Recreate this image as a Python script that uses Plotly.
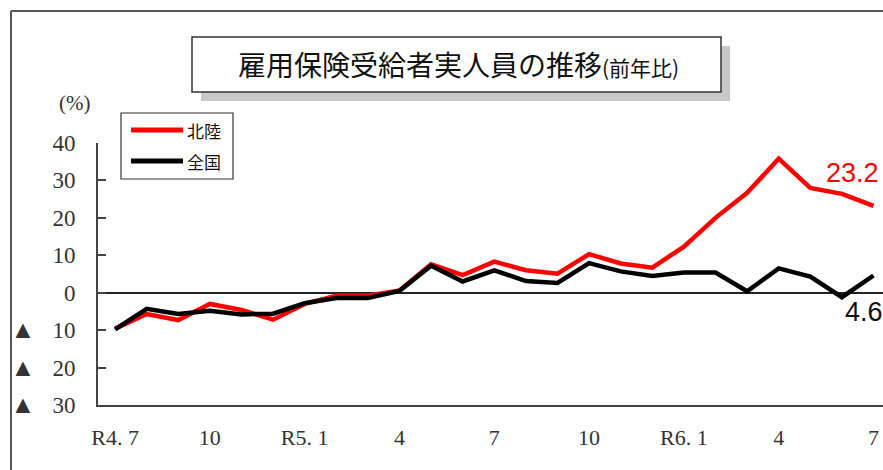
import plotly.graph_objects as go

# Months from R4.7 to R6.7
months = ["R4.7", "R4.8", "R4.9", "R4.10", "R4.11", "R4.12",
          "R5.1", "R5.2", "R5.3", "R5.4", "R5.5", "R5.6", "R5.7", "R5.8", "R5.9",
          "R5.10", "R5.11", "R5.12",
          "R6.1", "R6.2", "R6.3", "R6.4", "R6.5", "R6.6", "R6.7"]

# Year-on-year change (%) of insured unemployment benefit recipients
hokuriku = [-9.6, -5.7, -7.3, -3.0, -4.6, -7.2, -3.0, -0.8, -0.8, 0.6,
            7.6, 4.7, 8.3, 6.0, 5.1, 10.3, 7.8, 6.7,
            12.3, 20.0, 26.7, 35.8, 28.0, 26.4, 23.2]
zenkoku = [-9.8, -4.3, -5.7, -4.8, -5.8, -5.6, -2.8, -1.4, -1.4, 0.5,
           7.2, 3.0, 6.0, 3.1, 2.6, 7.9, 5.7, 4.5,
           5.4, 5.4, 0.4, 6.5, 4.3, -1.2, 4.6]

series_names = ["北陸", "全国"]
series_colors = ["#ff0000", "#000000"]

x_tick_pos = [0, 3, 6, 9, 12, 15, 18, 21, 24]
x_tick_text = ["R4. 7", "10", "R5. 1", "4", "7", "10", "R6. 1", "4", "7"]

y_tick_vals = [40, 30, 20, 10, 0, -10, -20, -30]
tri = "<span style='font-size:25px'>▲</span>\u00a0\u00a0\u00a0"
y_tick_text = ["40", "30", "20", "10", "0", tri + "10", tri + "20", tri + "30"]

xs = list(range(len(months)))

W, H = 883, 470
ML, MR, MT, MB = 98, 0, 143, 65
plot_w = W - ML - MR
plot_h = H - MT - MB


def px(xp):
    return (xp - ML) / plot_w


def py(yp):
    return (H - MB - yp) / plot_h


fig = go.Figure()
for vals, name, color in zip([hokuriku, zenkoku], series_names, series_colors):
    fig.add_trace(go.Scatter(x=xs, y=vals, mode="lines", name=name,
                             line=dict(color=color, width=4.5)))

serif = "Liberation Serif, Times New Roman, serif"
gothic = "Noto Sans CJK JP, Noto Sans, sans-serif"

fig.update_layout(
    width=W, height=H,
    margin=dict(l=ML, r=MR, t=MT, b=MB),
    paper_bgcolor="white", plot_bgcolor="white",
    showlegend=False,
    xaxis=dict(range=[-0.54, 24.3], tickmode="array", tickvals=x_tick_pos,
               ticktext=x_tick_text, showgrid=False, zeroline=False,
               showline=True, linecolor="#444", linewidth=2, ticks="",
               tickfont=dict(family=serif, size=22, color="#333"),
               ticklabelstandoff=12),
    yaxis=dict(range=[-30, 40], tickmode="array", tickvals=y_tick_vals,
               ticktext=y_tick_text, showgrid=False,
               zeroline=True, zerolinecolor="#222", zerolinewidth=1.5,
               showline=True, linecolor="#444", linewidth=2,
               ticks="inside", ticklen=8, tickcolor="#444", tickwidth=1.5,
               tickfont=dict(family=serif, size=23, color="#333"),
               ticklabelstandoff=16),
)

# outer frame
fig.add_shape(type="line", xref="paper", yref="paper",
              x0=px(11), x1=px(11), y0=py(H + 2), y1=py(11),
              line=dict(color="#555", width=2))
fig.add_shape(type="line", xref="paper", yref="paper",
              x0=px(11), x1=px(W + 2), y0=py(11), y1=py(11),
              line=dict(color="#555", width=2))

# title box with drop shadow
fig.add_shape(type="rect", xref="paper", yref="paper",
              x0=px(201), x1=px(730), y0=py(101), y1=py(46),
              fillcolor="#c8c8c8", line=dict(width=0))
fig.add_shape(type="rect", xref="paper", yref="paper",
              x0=px(192), x1=px(721), y0=py(92), y1=py(37),
              fillcolor="white", line=dict(color="#333", width=1.5))
fig.add_annotation(xref="paper", yref="paper", x=px(458), y=py(64),
                   text="雇用保険受給者実人員の推移<span style='font-size:21px'>(前年比)</span>",
                   showarrow=False, font=dict(family=gothic, size=28, color="#111"),
                   xanchor="center", yanchor="middle")

# unit label
fig.add_annotation(xref="paper", yref="paper", x=px(57), y=py(103),
                   text="(%)", showarrow=False,
                   font=dict(family=serif, size=21, color="#333"),
                   xanchor="left", yanchor="middle")

# legend box
fig.add_shape(type="rect", xref="paper", yref="paper",
              x0=px(121), x1=px(233), y0=py(179), y1=py(113),
              fillcolor="white", line=dict(color="#333", width=1.2))
for row_y, name, color in zip([130, 161], series_names, series_colors):
    fig.add_shape(type="line", xref="paper", yref="paper",
                  x0=px(131), x1=px(183), y0=py(row_y), y1=py(row_y),
                  line=dict(color=color, width=5))
    fig.add_annotation(xref="paper", yref="paper", x=px(185), y=py(row_y),
                       text=name, showarrow=False, xanchor="left", yanchor="middle",
                       font=dict(family=gothic, size=17, color="#111"))

# latest values
fig.add_annotation(x=xs[-1], y=hokuriku[-1], text=f"{hokuriku[-1]:.1f}",
                   showarrow=False, xanchor="right", yanchor="middle",
                   xshift=7, yshift=33,
                   font=dict(family="Liberation Sans, Arial", size=27, color="#ff0000"))
fig.add_annotation(x=xs[-1], y=zenkoku[-1], text=f"{zenkoku[-1]:.1f}",
                   showarrow=False, xanchor="right", yanchor="middle",
                   xshift=11, yshift=-36,
                   font=dict(family="Liberation Sans, Arial", size=27, color="#111"))

fig.write_html("out.html")
